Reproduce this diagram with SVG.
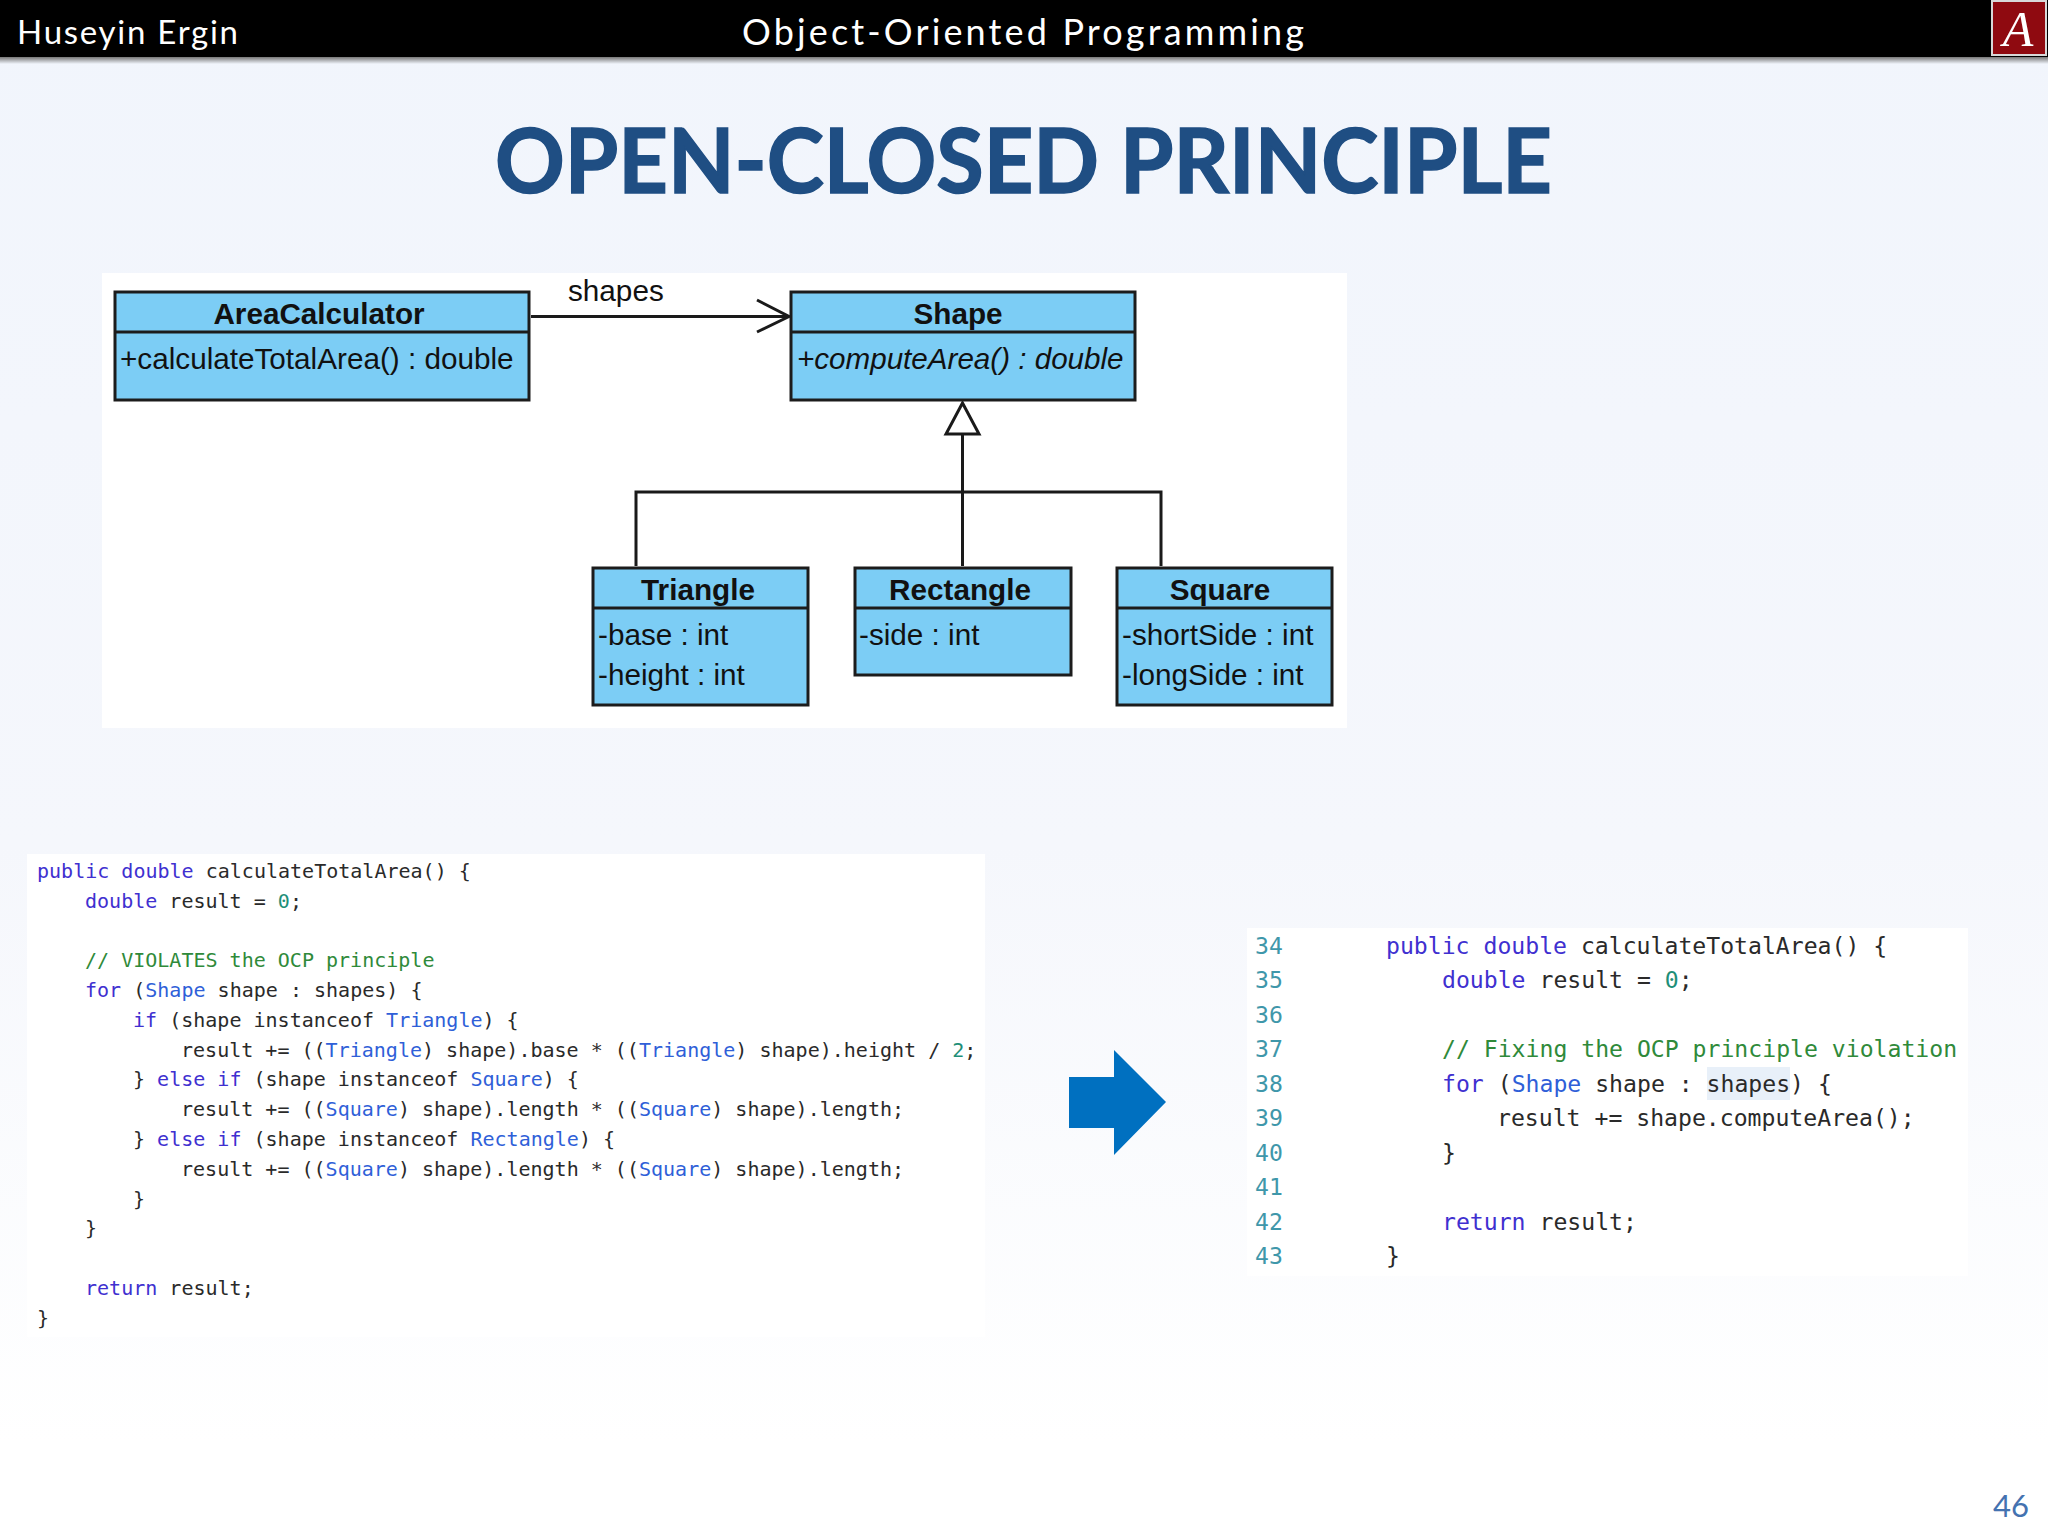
<svg xmlns="http://www.w3.org/2000/svg" width="2048" height="1536" viewBox="0 0 2048 1536">
<style>
.hdr{font-family:"Lato","Open Sans",sans-serif;fill:#fff}
.uml{fill:#7ccdf5;stroke:#1c1c1c;stroke-width:3}
.div{stroke:#1c1c1c;stroke-width:3;fill:none}
.t{font-family:"Liberation Sans",Arial,sans-serif;font-size:29.7px;fill:#111}
.b{font-weight:700;text-anchor:middle}
.i{font-style:italic;font-size:29.6px}
.ln{fill:none;stroke:#1a1a1a;stroke-width:3}
.code{font-family:"DejaVu Sans Mono","Liberation Mono",monospace;fill:#2a2a2a}
.c1{font-size:20.03px}
.c2{font-size:23.13px}
.k{fill:#4030d0}
.ty{fill:#2f5fd8}
.cm{fill:#2f8a3a}
.n{fill:#1f8f78}
.num{fill:#3f97aa}
</style>
<defs>
<linearGradient id="bg" x1="0" y1="0" x2="0" y2="1">
<stop offset="0" stop-color="#f1f5fc"/>
<stop offset="0.55" stop-color="#f5f7fc"/>
<stop offset="0.94" stop-color="#ffffff"/>
</linearGradient>
<linearGradient id="sh" x1="0" y1="0" x2="0" y2="1">
<stop offset="0" stop-color="#777"/>
<stop offset="1" stop-color="#f1f5fc"/>
</linearGradient>
</defs>
<rect id="background" width="2048" height="1536" fill="url(#bg)"/>
<g id="header">
<rect y="57" width="2048" height="7" fill="url(#sh)"/>
<rect width="2048" height="57" fill="#000"/>
<text class="hdr" x="17" y="44" font-size="33" textLength="221">Huseyin Ergin</text>
<text class="hdr" x="742" y="45" font-size="36" textLength="562">Object-Oriented Programming</text>
<g id="logo">
<rect x="1992" y="1" width="54" height="54" fill="#8f0a10" stroke="#d8d8d8" stroke-width="2"/>
<text x="2018" y="46" font-family="Liberation Serif,serif" font-style="italic" font-size="50" fill="#fff" text-anchor="middle">A</text>
</g>
</g>
<text id="title" x="495" y="193" font-family="Lato,'Open Sans',sans-serif" font-weight="700" font-size="89" fill="#1f4e83" stroke="#1f4e83" stroke-width="1.5" textLength="1057" lengthAdjust="spacingAndGlyphs">OPEN-CLOSED PRINCIPLE</text>
<rect id="uml-panel" x="102" y="273" width="1245" height="455" fill="#fff"/>
<g id="connectors">
<path class="ln" d="M531 316.500H788"/>
<path class="ln" d="M757 300L789 316.500L757 332"/>
<path class="ln" d="M962.500 434V566"/>
<path class="ln" d="M962.500 434V492" stroke-width="4"/>
<path class="ln" d="M636 566V492H1161V566"/>
<path d="M962.500 403L979 434H946Z" fill="#fff" stroke="#1a1a1a" stroke-width="3"/>
<text class="t" x="568" y="301">shapes</text>
</g>
<g id="AreaCalculator">
<rect class="uml" x="115" y="292" width="414" height="108"/>
<path class="div" d="M115 332H529"/>
<text class="t b" x="319" y="324">AreaCalculator</text>
<text class="t" x="120" y="369">+calculateTotalArea() : double</text>
</g>
<g id="Shape">
<rect class="uml" x="791" y="292" width="344" height="108"/>
<path class="div" d="M791 332H1135"/>
<text class="t b" x="958" y="324">Shape</text>
<text class="t i" x="797" y="369">+computeArea() : double</text>
</g>
<g id="Triangle">
<rect class="uml" x="593" y="568" width="215" height="137"/>
<path class="div" d="M593 608H808"/>
<text class="t b" x="698" y="600">Triangle</text>
<text class="t" x="598" y="645">-base : int</text>
<text class="t" x="598" y="685">-height : int</text>
</g>
<g id="Rectangle">
<rect class="uml" x="855" y="568" width="216" height="107"/>
<path class="div" d="M855 608H1071"/>
<text class="t b" x="960" y="600">Rectangle</text>
<text class="t" x="859" y="645">-side : int</text>
</g>
<g id="Square">
<rect class="uml" x="1117" y="568" width="215" height="137"/>
<path class="div" d="M1117 608H1332"/>
<text class="t b" x="1220" y="600">Square</text>
<text class="t" x="1122" y="645">-shortSide : int</text>
<text class="t" x="1122" y="685">-longSide : int</text>
</g>
<g id="code-before">
<rect x="27" y="854" width="958" height="483" fill="#fff"/>
<g class="code c1">
<text x="37" y="878"><tspan class="k">public double</tspan> calculateTotalArea() {</text>
<text x="85" y="908"><tspan class="k">double</tspan> result = <tspan class="n">0</tspan>;</text>
<text x="85" y="967" class="cm">// VIOLATES the OCP principle</text>
<text x="85" y="997"><tspan class="k">for</tspan> (<tspan class="ty">Shape</tspan> shape : shapes) {</text>
<text x="133" y="1027"><tspan class="k">if</tspan> (shape instanceof <tspan class="ty">Triangle</tspan>) {</text>
<text x="181" y="1056.500">result += ((<tspan class="ty">Triangle</tspan>) shape).base * ((<tspan class="ty">Triangle</tspan>) shape).height / <tspan class="n">2</tspan>;</text>
<text x="133" y="1086">} <tspan class="k">else if</tspan> (shape instanceof <tspan class="ty">Square</tspan>) {</text>
<text x="181" y="1116">result += ((<tspan class="ty">Square</tspan>) shape).length * ((<tspan class="ty">Square</tspan>) shape).length;</text>
<text x="133" y="1146">} <tspan class="k">else if</tspan> (shape instanceof <tspan class="ty">Rectangle</tspan>) {</text>
<text x="181" y="1176">result += ((<tspan class="ty">Square</tspan>) shape).length * ((<tspan class="ty">Square</tspan>) shape).length;</text>
<text x="133" y="1205.500">}</text>
<text x="85" y="1235">}</text>
<text x="85" y="1295"><tspan class="k">return</tspan> result;</text>
<text x="37" y="1325">}</text>
</g>
</g>
<path id="arrow" d="M1069 1077H1114V1050L1166 1102L1114 1155V1128H1069Z" fill="#0070c0"/>
<g id="code-after">
<rect x="1247" y="928" width="721" height="348" fill="#fff"/>
<rect x="1707" y="1067" width="83" height="33" fill="#e8f0f9"/>
<g class="code c2">
<g class="num">
<text x="1255" y="954">34</text>
<text x="1255" y="988">35</text>
<text x="1255" y="1023">36</text>
<text x="1255" y="1057">37</text>
<text x="1255" y="1092">38</text>
<text x="1255" y="1126">39</text>
<text x="1255" y="1161">40</text>
<text x="1255" y="1195">41</text>
<text x="1255" y="1230">42</text>
<text x="1255" y="1264">43</text>
</g>
<text x="1386" y="954"><tspan class="k">public double</tspan> calculateTotalArea() {</text>
<text x="1442" y="988"><tspan class="k">double</tspan> result = <tspan class="n">0</tspan>;</text>
<text x="1442" y="1057" class="cm">// Fixing the OCP principle violation</text>
<text x="1442" y="1092"><tspan class="k">for</tspan> (<tspan class="ty">Shape</tspan> shape : shapes) {</text>
<text x="1497" y="1126">result += shape.computeArea();</text>
<text x="1442" y="1161">}</text>
<text x="1442" y="1230"><tspan class="k">return</tspan> result;</text>
<text x="1386" y="1264">}</text>
</g>
</g>
<text id="page-number" x="1993" y="1517" font-family="Lato,sans-serif" font-size="31" fill="#4472b0">46</text>
</svg>
